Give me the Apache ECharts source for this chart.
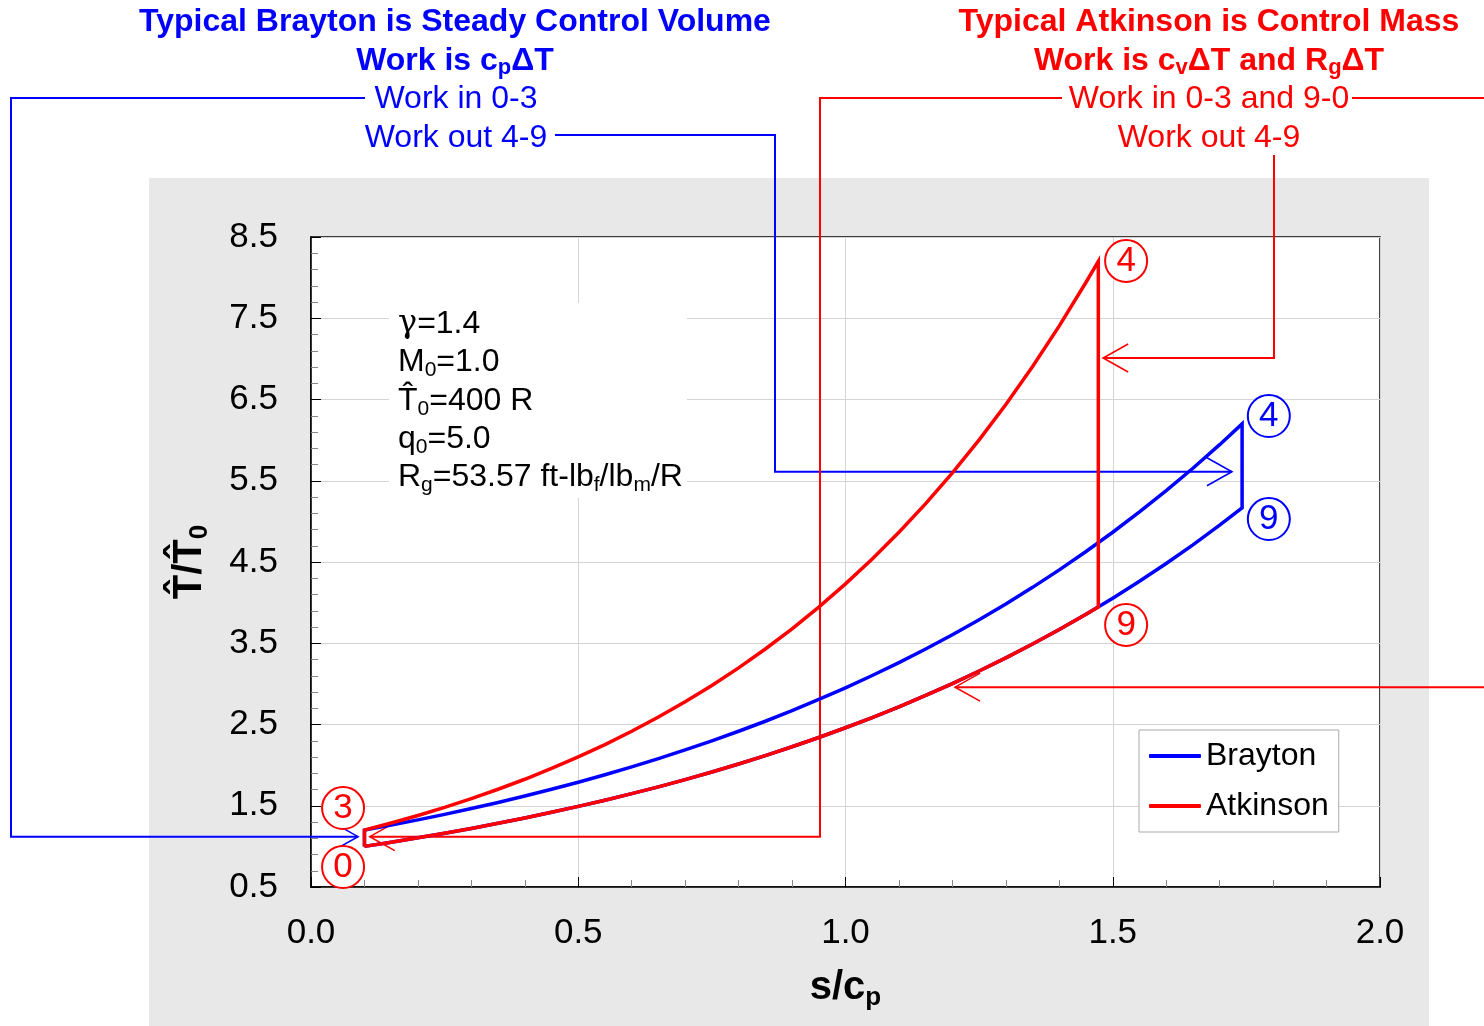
<!DOCTYPE html>
<html>
<head>
<meta charset="utf-8">
<script src="https://cdn.jsdelivr.net/npm/echarts@6/dist/echarts.min.js"></script>
<style>
html,body{margin:0;padding:0;background:#fff;}
#chart{width:1484px;height:1026px;}
</style>
</head>
<body>
<div id="chart"></div>
<script>
// ---------------- data (s/cp, T/T0) ----------------
const braytonCompression = [[0.10,1.000],[0.10,1.200]];
const braytonHeatAddition = [[0.15,1.262],[0.20,1.326],[0.25,1.394],[0.30,1.466],[0.35,1.541],[0.40,1.620],[0.45,1.703],[0.50,1.790],[0.55,1.882],[0.60,1.978],[0.65,2.080],[0.70,2.187],[0.75,2.299],[0.80,2.417],[0.85,2.540],[0.90,2.671],[0.95,2.808],[1.00,2.952],[1.05,3.103],[1.10,3.262],[1.15,3.429],[1.20,3.605],[1.25,3.790],[1.30,3.984],[1.35,4.188],[1.40,4.403],[1.45,4.629],[1.50,4.866],[1.55,5.116],[1.60,5.378],[1.65,5.654],[1.70,5.944],[1.742,6.200]];
const braytonExpansionEnd = [[1.742,5.167]];
const braytonHeatRejection = [[1.70,4.953],[1.65,4.711],[1.60,4.482],[1.55,4.263],[1.50,4.055],[1.45,3.857],[1.40,3.669],[1.35,3.490],[1.30,3.320],[1.25,3.158],[1.20,3.004],[1.15,2.858],[1.10,2.718],[1.05,2.586],[1.00,2.460],[0.95,2.340],[0.90,2.226],[0.85,2.117],[0.80,2.014],[0.75,1.916],[0.70,1.822],[0.65,1.733],[0.60,1.649],[0.55,1.568],[0.50,1.492],[0.45,1.419],[0.40,1.350],[0.35,1.284],[0.30,1.221],[0.25,1.162],[0.20,1.105],[0.15,1.051],[0.10,1.000]];

const atkinsonCompression = [[0.10,1.000],[0.10,1.200]];
const atkinsonHeatAddition = [[0.15,1.287],[0.20,1.380],[0.25,1.480],[0.30,1.588],[0.35,1.703],[0.40,1.826],[0.45,1.959],[0.50,2.101],[0.55,2.253],[0.60,2.417],[0.65,2.592],[0.70,2.780],[0.75,2.981],[0.80,3.197],[0.85,3.429],[0.90,3.678],[0.95,3.944],[1.00,4.231],[1.05,4.537],[1.10,4.866],[1.15,5.219],[1.20,5.598],[1.25,6.003],[1.30,6.439],[1.35,6.906],[1.40,7.406],[1.45,7.943],[1.473,8.200]];
const atkinsonExpansionEnd = [[1.473,3.947]];
const atkinsonHeatRejection = [[1.45,3.857],[1.40,3.669],[1.35,3.490],[1.30,3.320],[1.25,3.158],[1.20,3.004],[1.15,2.858],[1.10,2.718],[1.05,2.586],[1.00,2.460],[0.95,2.340],[0.90,2.226],[0.85,2.117],[0.80,2.014],[0.75,1.916],[0.70,1.822],[0.65,1.733],[0.60,1.649],[0.55,1.568],[0.50,1.492],[0.45,1.419],[0.40,1.350],[0.35,1.284],[0.30,1.221],[0.25,1.162],[0.20,1.105],[0.15,1.051],[0.10,1.000]];

// state markers [s, T, label]
const braytonStates = [[1.792,6.297,'4'],[1.792,5.029,'9']];
const atkinsonStates = [[0.060,1.472,'3'],[0.060,0.746,'0'],[1.525,8.205,'4'],[1.525,3.725,'9']];

// callout arrow tips (s, T)
const calloutTips = {
  braytonIn:  [0.088,1.12],
  braytonOut: [1.723,5.61],
  atkinsonIn: [0.110,1.12],
  atkinsonOut:[1.482,7.01],
  atkinsonIn90:[1.205,2.96]
};

const legendNames = ['Brayton','Atkinson'];
const paramLines = [
  '{g|γ}{t|=1.4}',
  '{t|M}{s|0}{t|=1.0}',
  '{t|T\u0302}{s|0}{t|=400 R}',
  '{t|q}{s|0}{t|=5.0}',
  '{t|R}{s|g}{t|=53.57 ft-lb}{s|f}{t|/lb}{s|m}{t|/R}'
];

// ---------------- chart ----------------
const FONT = "'Liberation Sans', Arial, Helvetica, sans-serif";
const BLUE = '#0000ff', RED = '#ff0000';
const chart = echarts.init(document.getElementById('chart'), null, {renderer:'canvas'});

function stateSeries(name, data, color){
  return {
    name: name, type:'scatter', z:3, data:data,
    symbol:'circle', symbolSize:42,
    itemStyle:{color:'#ffffff', borderColor:color, borderWidth:2, opacity:1},
    label:{show:true, position:'inside', formatter:p=>p.value[2], color:color, fontSize:35, fontFamily:FONT},
    emphasis:{disabled:true}, silent:true
  };
}

const option = {
  animation:false,
  backgroundColor:'#ffffff',
  textStyle:{fontFamily:FONT},
  grid:{left:311, top:237, width:1069, height:650, show:true, backgroundColor:'#ffffff',
        borderColor:'#000', borderWidth:1.5, containLabel:false, outerBoundsMode:'none'},
  legend:{
    data:legendNames, orient:'vertical', left:1139, top:730,
    backgroundColor:'#ffffff', borderColor:'#aaaaaa', borderWidth:1,
    padding:[10,10,10,10], itemGap:18, itemWidth:52, itemHeight:4, icon:'roundRect',
    textStyle:{fontSize:32, color:'#000', lineHeight:32, fontFamily:FONT},
    selectedMode:false
  },
  xAxis:{
    type:'value', min:0, max:2, interval:0.5,
    axisLine:{show:true, lineStyle:{color:'#000', width:1.5}},
    axisTick:{show:true, inside:true, length:10, lineStyle:{color:'#000', width:1}},
    minorTick:{show:true, splitNumber:5, length:7, lineStyle:{color:'#888', width:1}},
    splitLine:{show:true, lineStyle:{color:'#d4d4d4', width:1}},
    axisLabel:{fontSize:35, color:'#000', margin:29, formatter:v=>v.toFixed(1), fontFamily:FONT},
    name:'{b|s/c}{s|p}', nameLocation:'middle', nameGap:78,
    nameTextStyle:{rich:{
      b:{fontSize:40, fontWeight:'bold', color:'#000', lineHeight:46, fontFamily:FONT},
      s:{fontSize:26, fontWeight:'bold', color:'#000', lineHeight:26, verticalAlign:'bottom', fontFamily:FONT}
    }}
  },
  yAxis:{
    type:'value', min:0.5, max:8.5, interval:1,
    axisLine:{show:true, lineStyle:{color:'#000', width:1.5}},
    axisTick:{show:true, inside:true, length:10, lineStyle:{color:'#000', width:1}},
    minorTick:{show:true, splitNumber:5, length:7, lineStyle:{color:'#888', width:1}},
    splitLine:{show:true, lineStyle:{color:'#d4d4d4', width:1}},
    axisLabel:{fontSize:35, color:'#000', margin:33, formatter:v=>v.toFixed(1), fontFamily:FONT},
    name:'{b|T\u0302/T\u0302}{s|0}', nameLocation:'middle', nameRotate:90, nameGap:98,
    nameTextStyle:{rich:{
      b:{fontSize:40, fontWeight:'bold', color:'#000', lineHeight:46, fontFamily:FONT},
      s:{fontSize:26, fontWeight:'bold', color:'#000', lineHeight:26, verticalAlign:'bottom', fontFamily:FONT}
    }}
  },
  series:[
    {
      name:'Brayton', type:'line', z:2, showSymbol:false, symbol:'none', smooth:false,
      data:[].concat(braytonCompression, braytonHeatAddition, braytonExpansionEnd, braytonHeatRejection),
      lineStyle:{color:BLUE, width:3.5, join:'miter', cap:'butt'}, itemStyle:{color:BLUE},
      emphasis:{disabled:true}, silent:true
    },
    {
      name:'Atkinson', type:'line', z:2, showSymbol:false, symbol:'none', smooth:false,
      data:[].concat(atkinsonCompression, atkinsonHeatAddition, atkinsonExpansionEnd, atkinsonHeatRejection),
      lineStyle:{color:RED, width:3.5, join:'miter', cap:'butt'}, itemStyle:{color:RED},
      emphasis:{disabled:true}, silent:true
    },
    stateSeries('braytonStates', braytonStates, BLUE),
    stateSeries('atkinsonStates', atkinsonStates, RED)
  ]
};
chart.setOption(option);

// ---------------- annotations ----------------
const px = (p)=>chart.convertToPixel({gridIndex:0}, p);
const g = [];
g.push({type:'rect', z:-100, silent:true, shape:{x:149, y:178, width:1280, height:848}, style:{fill:'#e8e8e8'}});
g.push({type:'rect', z:1, silent:true, shape:{x:389, y:303, width:298, height:195}, style:{fill:'#ffffff'}});

function text(x, y, t, opts){
  g.push({type:'text', z:10, silent:true, style:Object.assign({x:x, y:y, text:t, align:'center', verticalAlign:'middle',
    fontFamily:FONT}, opts)});
}
const boldRich = (color)=>({
  b:{fontSize:32, fontWeight:'bold', fill:color, color:color, lineHeight:36, fontFamily:FONT},
  s:{fontSize:22, fontWeight:'bold', fill:color, color:color, lineHeight:22, verticalAlign:'bottom', fontFamily:FONT}
});
text(455, 22, 'Typical Brayton is Steady Control Volume', {fontSize:32, fontWeight:'bold', fill:BLUE});
text(455, 61, '{b|Work is c}{s|p}{b|ΔT}', {rich:boldRich(BLUE), fill:BLUE});
text(456, 99, 'Work in 0-3', {fontSize:32, fill:BLUE});
text(456, 138, 'Work out 4-9', {fontSize:32, fill:BLUE});
text(1209, 22, 'Typical Atkinson is Control Mass', {fontSize:32, fontWeight:'bold', fill:RED});
text(1209, 61, '{b|Work is c}{s|v}{b|ΔT and R}{s|g}{b|ΔT}', {rich:boldRich(RED), fill:RED});
text(1209, 99, 'Work in 0-3 and 9-0', {fontSize:32, fill:RED});
text(1209, 138, 'Work out 4-9', {fontSize:32, fill:RED});

const paramRich = {
  t:{fontSize:32, fill:'#000', color:'#000', lineHeight:38, fontFamily:FONT},
  g:{fontSize:32, fill:'#000', color:'#000', lineHeight:38, fontFamily:"'DejaVu Serif', 'Liberation Serif', serif"},
  s:{fontSize:21, fill:'#000', color:'#000', lineHeight:21, verticalAlign:'bottom', fontFamily:FONT}
};
const paramY = [324, 362, 401, 439, 477];
paramLines.forEach((t,i)=>{
  g.push({type:'text', z:10, silent:true, style:{x:398, y:paramY[i], text:t, rich:paramRich, align:'left', verticalAlign:'middle', fill:'#000', fontFamily:FONT}});
});

function poly(points, color, width){
  g.push({type:'polyline', z:1, silent:true, shape:{points:points}, style:{stroke:color, lineWidth:width, fill:null, lineJoin:'miter'}});
}
function arrowHead(tip, dir, color){
  const dx = 25*dir, dy = 14;
  poly([[tip[0]-dx, tip[1]-dy], tip, [tip[0]-dx, tip[1]+dy]], color, 1.6);
}
const tBI = px(calloutTips.braytonIn), tBO = px(calloutTips.braytonOut);
const tAI = px(calloutTips.atkinsonIn), tAO = px(calloutTips.atkinsonOut), tA9 = px(calloutTips.atkinsonIn90);

poly([[365,98],[11,98],[11,tBI[1]],tBI], BLUE, 2); arrowHead(tBI, 1, BLUE);
poly([[555,135],[775,135],[775,tBO[1]],tBO], BLUE, 2); arrowHead(tBO, 1, BLUE);
poly([[1062,98],[820,98],[820,tAI[1]],tAI], RED, 2); arrowHead(tAI, -1, RED);
poly([[1352,98],[1484,98]], RED, 2);
poly([[1274,155],[1274,tAO[1]],tAO], RED, 2); arrowHead(tAO, -1, RED);
poly([[1484,tA9[1]],tA9], RED, 2); arrowHead(tA9, -1, RED);

chart.setOption({graphic:{elements:g}});
</script>
</body>
</html>
